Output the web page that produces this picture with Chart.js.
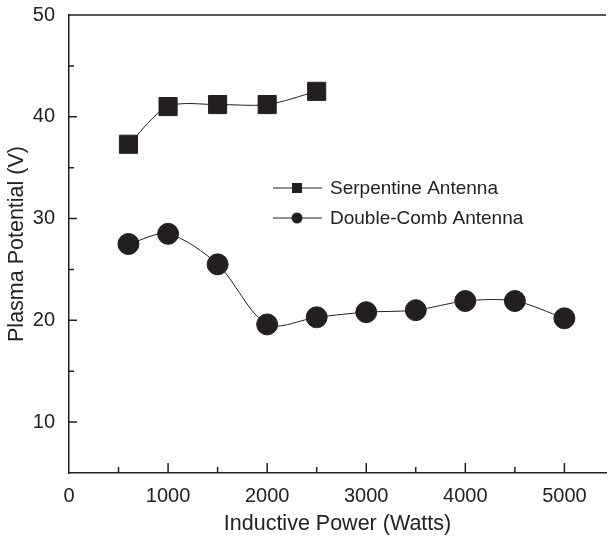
<!DOCTYPE html>
<html>
<head>
<meta charset="utf-8">
<script src="https://cdn.jsdelivr.net/npm/chart.js@4"></script>
<style>
  html, body { margin: 0; padding: 0; background: #fff; }
  #wrap { width: 608px; height: 538px; }
</style>
</head>
<body>
<div id="wrap"><canvas id="myChart" width="608" height="538"></canvas></div>
<script>
const powerSerp = [600, 1000, 1500, 2000, 2500];
const serpentine = [37.3, 41.0, 41.2, 41.2, 42.5];
const powerComb = [600, 1000, 1500, 2000, 2500, 3000, 3500, 4000, 4500, 5000];
const doubleComb = [27.5, 28.5, 25.5, 19.6, 20.3, 20.8, 21.0, 21.9, 21.9, 20.2];
const xTicks = [0, 1000, 2000, 3000, 4000, 5000];
const yTicks = [10, 20, 30, 40, 50];

const ink = '#231f20';
const fam = '"Liberation Sans", Arial, sans-serif';

// inward ticks (major + minor), top frame line, legend inside the plot
const decor = {
  id: 'decor',
  afterDraw(chart) {
    const c = chart.ctx, a = chart.chartArea;
    const xs = chart.scales.x, ys = chart.scales.y;
    c.save();
    c.strokeStyle = ink;
    c.lineWidth = 1.5;
    c.beginPath();
    c.moveTo(a.left, a.top); c.lineTo(a.right, a.top);
    for (let v = 500; v <= 5000; v += 500) {
      const px = xs.getPixelForValue(v);
      const len = v % 1000 === 0 ? 10 : 6;
      c.moveTo(px, a.bottom); c.lineTo(px, a.bottom - len);
    }
    for (let v = 10; v <= 50; v += 5) {
      const py = ys.getPixelForValue(v);
      const len = v % 10 === 0 ? 8 : 5;
      c.moveTo(a.left, py); c.lineTo(a.left + len, py);
    }
    c.stroke();

    // legend
    const rows = [188, 218];
    chart.data.datasets.forEach((ds, i) => {
      const y = rows[i];
      c.strokeStyle = ink;
      c.lineWidth = 1;
      c.beginPath(); c.moveTo(273, y); c.lineTo(322, y); c.stroke();
      c.fillStyle = ink;
      if (ds.pointStyle === 'rect') {
        c.fillRect(292, y - 5, 10, 10);
      } else {
        c.beginPath(); c.arc(297, y, 5.5, 0, Math.PI * 2); c.fill();
      }
      c.fillStyle = '#222';
      c.font = '19px ' + fam;
      c.textBaseline = 'middle';
      c.fillText(ds.label, 330, y + 1);
    });
    c.restore();
  }
};

new Chart(document.getElementById('myChart'), {
  type: 'line',
  data: {
    datasets: [{
      label: 'Serpentine Antenna',
      data: powerSerp.map((x, i) => ({ x: x, y: serpentine[i] })),
      borderColor: ink,
      borderWidth: 1,
      backgroundColor: ink,
      pointStyle: 'rect',
      pointRadius: 12.8,
      tension: 0.3
    }, {
      label: 'Double-Comb Antenna',
      data: powerComb.map((x, i) => ({ x: x, y: doubleComb[i] })),
      borderColor: ink,
      borderWidth: 1,
      backgroundColor: ink,
      pointStyle: 'circle',
      pointRadius: 10.5,
      tension: 0.3
    }]
  },
  options: {
    responsive: false,
    animation: false,
    layout: { autoPadding: false, padding: { top: 15, right: 2, left: 0, bottom: 0 } },
    plugins: { legend: { display: false }, tooltip: { enabled: false } },
    scales: {
      x: {
        type: 'linear',
        min: 0, max: 5420,
        afterBuildTicks: s => { s.ticks = xTicks.map(v => ({ value: v })); },
        afterFit: s => { s.height = 65; s.paddingLeft = 0; s.paddingRight = 0; },
        grid: { display: false },
        border: { color: ink, width: 1.5 },
        ticks: { color: '#222', padding: 3, maxRotation: 0, callback: v => String(v), font: { size: 20, family: fam } },
        title: { display: true, text: 'Inductive Power (Watts)', color: '#222', padding: { top: 6, bottom: 1 }, font: { size: 21.5, family: fam } }
      },
      y: {
        type: 'linear',
        min: 5, max: 50,
        afterBuildTicks: s => { s.ticks = yTicks.map(v => ({ value: v })); },
        afterFit: s => { s.width = 69; s.paddingTop = 0; s.paddingBottom = 0; },
        grid: { display: false },
        border: { color: ink, width: 1.5 },
        ticks: { color: '#222', padding: 6, callback: v => String(v), font: { size: 20, family: fam } },
        title: { display: true, text: 'Plasma Potential (V)', color: '#222', padding: { bottom: 4 }, font: { size: 21.5, family: fam } }
      }
    }
  },
  plugins: [decor]
});
</script>
</body>
</html>
